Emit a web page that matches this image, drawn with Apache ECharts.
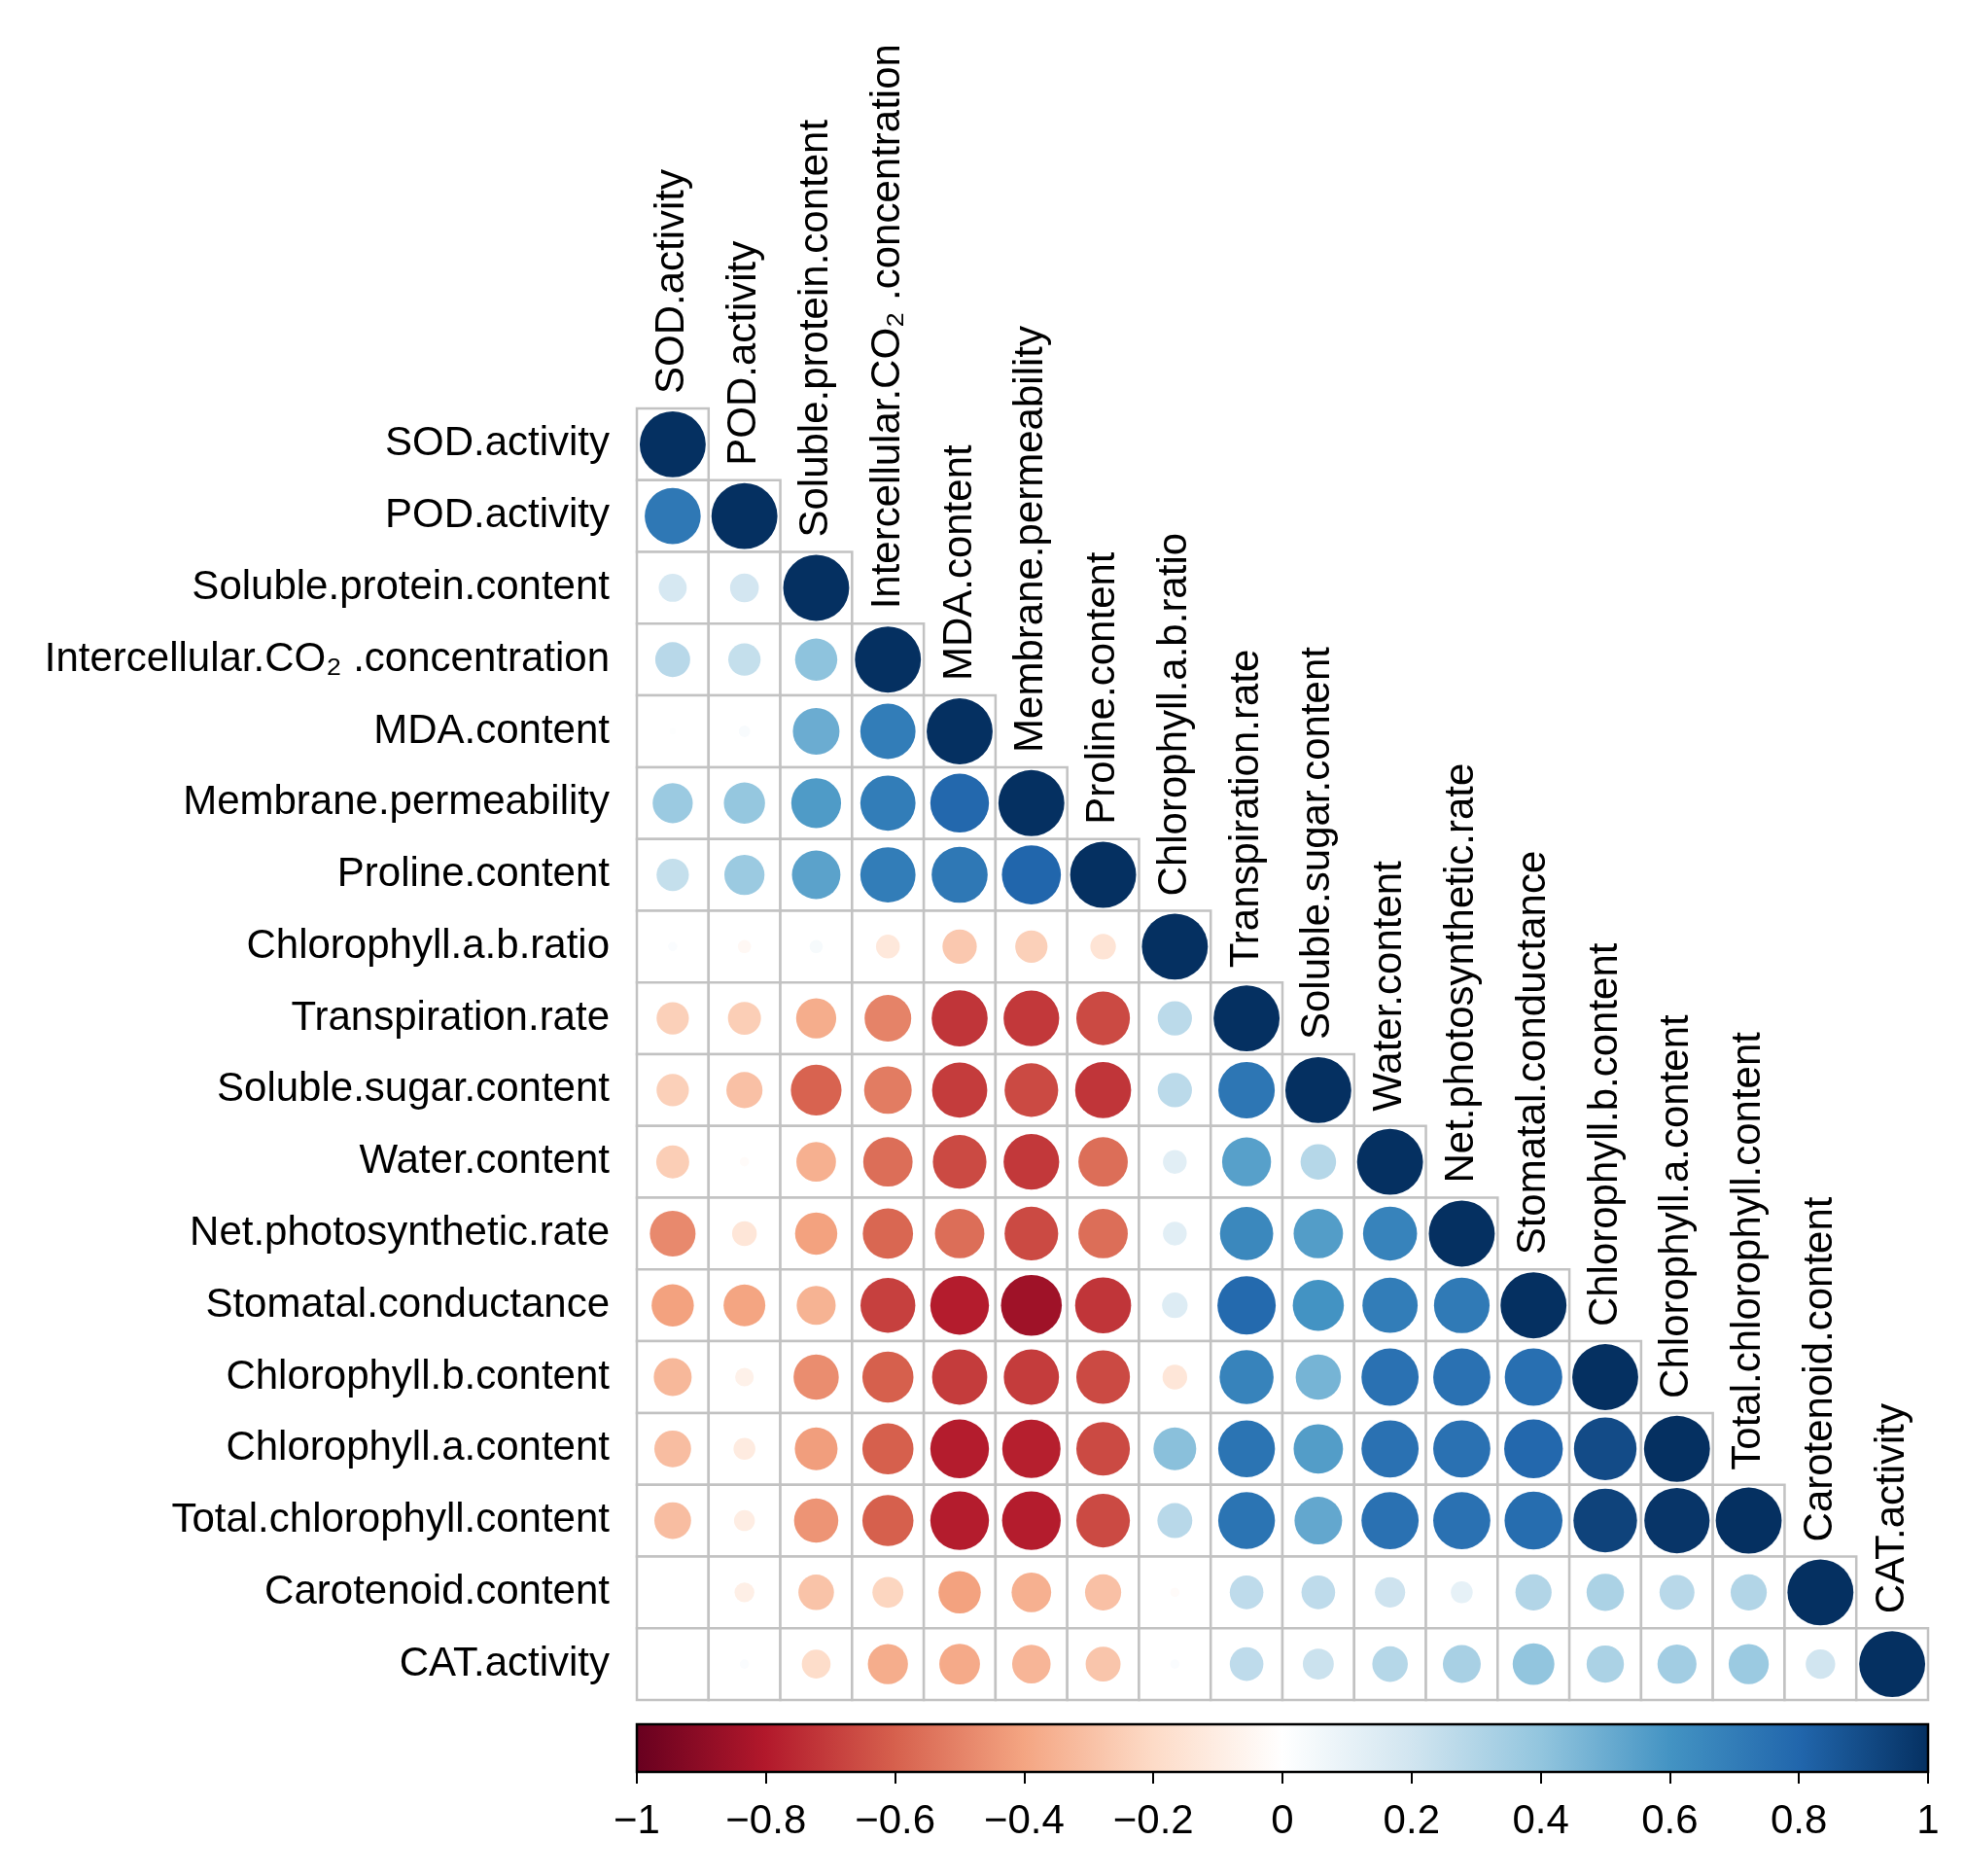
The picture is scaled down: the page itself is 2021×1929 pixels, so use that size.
<!DOCTYPE html>
<html><head><meta charset="utf-8">
<script src="https://cdn.jsdelivr.net/npm/echarts@6/dist/echarts.min.js"></script>
<style>html,body{margin:0;padding:0;background:#fff}#c{width:2021px;height:1929px}</style>
</head><body><div id="c"></div><script>
const labels = ["SOD.activity","POD.activity","Soluble.protein.content","Intercellular.CO\u2082 .concentration","MDA.content","Membrane.permeability","Proline.content","Chlorophyll.a.b.ratio","Transpiration.rate","Soluble.sugar.content","Water.content","Net.photosynthetic.rate","Stomatal.conductance","Chlorophyll.b.content","Chlorophyll.a.content","Total.chlorophyll.content","Carotenoid.content","CAT.activity"];

// lower-triangle correlation rows (row i has columns 0..i)
const rowSOD      = [1];
const rowPOD      = [0.72, 1];
const rowSolProt  = [0.18, 0.19, 1];
const rowCO2      = [0.28, 0.24, 0.41, 1];
const rowMDA      = [0.01, 0.03, 0.50, 0.70, 1];
const rowMemb     = [0.37, 0.39, 0.57, 0.70, 0.79, 1];
const rowProline  = [0.24, 0.37, 0.54, 0.70, 0.72, 0.80, 1];
const rowChlRatio = [0.02, -0.04, 0.04, -0.13, -0.27, -0.24, -0.15, 1];
const rowTransp   = [-0.24, -0.25, -0.37, -0.50, -0.72, -0.71, -0.66, 0.27, 1];
const rowSugar    = [-0.24, -0.30, -0.59, -0.52, -0.70, -0.66, -0.72, 0.27, 0.73, 1];
const rowWater    = [-0.25, -0.02, -0.36, -0.56, -0.66, -0.71, -0.56, 0.13, 0.55, 0.29, 1];
const rowNetPhoto = [-0.48, -0.14, -0.41, -0.58, -0.56, -0.66, -0.56, 0.13, 0.65, 0.56, 0.67, 1];
const rowStomatal = [-0.41, -0.40, -0.35, -0.69, -0.79, -0.85, -0.72, 0.15, 0.78, 0.60, 0.70, 0.71, 1];
const rowChlB     = [-0.33, -0.08, -0.47, -0.60, -0.70, -0.70, -0.66, -0.14, 0.67, 0.47, 0.75, 0.75, 0.76, 1];
const rowChlA     = [-0.31, -0.11, -0.42, -0.60, -0.79, -0.78, -0.66, 0.42, 0.74, 0.56, 0.75, 0.75, 0.79, 0.90, 1];
const rowTotalChl = [-0.31, -0.10, -0.45, -0.60, -0.79, -0.79, -0.66, 0.28, 0.74, 0.52, 0.75, 0.75, 0.77, 0.93, 0.98, 1];
const rowCarot    = [0.00, -0.09, -0.29, -0.22, -0.41, -0.36, -0.30, -0.02, 0.26, 0.26, 0.21, 0.11, 0.30, 0.32, 0.28, 0.30, 1];
const rowCAT      = [0.00, 0.02, -0.19, -0.37, -0.38, -0.34, -0.28, 0.02, 0.26, 0.22, 0.29, 0.33, 0.40, 0.32, 0.35, 0.37, 0.20, 1];
const corrRows = [rowSOD,rowPOD,rowSolProt,rowCO2,rowMDA,rowMemb,rowProline,rowChlRatio,rowTransp,rowSugar,rowWater,rowNetPhoto,rowStomatal,rowChlB,rowChlA,rowTotalChl,rowCarot,rowCAT];

const palette = ["#67001F","#B2182B","#D6604D","#F4A582","#FDDBC7","#FFFFFF","#D1E5F0","#92C5DE","#4393C3","#2166AC","#053061"];
const cbTicks = [-1,-0.8,-0.6,-0.4,-0.2,0,0.2,0.4,0.6,0.8,1];

function hex2rgb(h){return [parseInt(h.substr(1,2),16),parseInt(h.substr(3,2),16),parseInt(h.substr(5,2),16)];}
function colorFor(v){
  let t=(v+1)/2*(palette.length-1);
  let i=Math.min(Math.floor(t),palette.length-2); let f=t-i;
  const a=hex2rgb(palette[i]), b=hex2rgb(palette[i+1]);
  const c=a.map((x,k)=>Math.round(x+(b[k]-x)*f));
  return 'rgb('+c.join(',')+')';
}

const cellData=[];
corrRows.forEach((row,i)=>row.forEach((v,j)=>cellData.push([j,i,v])));
const colLabelData = labels.map((l,j)=>[j,j,l]);

const FONT='Liberation Sans';
const chart=echarts.init(document.getElementById('c'),null,{renderer:'canvas'});
chart.setOption({
  backgroundColor:'#fff',
  animation:false,
  grid:[
    {left:655,top:420,width:1328,height:1328},
    {left:655,top:1773,width:1328,height:49}
  ],
  xAxis:[
    {type:'category',data:labels,gridIndex:0,show:false},
    {type:'value',gridIndex:1,min:-1,max:1,interval:0.2,
     axisLine:{show:false},splitLine:{show:false},
     axisTick:{show:true,length:12,lineStyle:{color:'#000',width:2}},
     axisLabel:{show:true,fontSize:42,fontFamily:FONT,color:'#000',margin:30,showMinLabel:true,showMaxLabel:true,
       formatter:v=>{ if(Math.abs(v)<1e-9) return '0'; const s=String(Number(Math.abs(v).toFixed(1))); return (v<0?'\u2212':'')+s; }}}
  ],
  yAxis:[
    {type:'category',data:labels,gridIndex:0,inverse:true,
     axisLine:{show:false},axisTick:{show:false},splitLine:{show:false},
     axisLabel:{fontSize:42,fontFamily:FONT,color:'#000',margin:28}},
    {type:'value',gridIndex:1,min:0,max:1,show:false}
  ],
  series:[
    {type:'custom',xAxisIndex:0,yAxisIndex:0,data:cellData,
     renderItem:(params,api)=>{
       const j=api.value(0), i=api.value(1), v=api.value(2);
       const p=api.coord([j,i]); const s=api.size([1,1]);
       const w=s[0], h=s[1];
       const r=0.46*w*Math.sqrt(Math.abs(v));
       return {type:'group',children:[
         {type:'rect',shape:{x:p[0]-w/2,y:p[1]-h/2,width:w,height:h},style:{fill:'#fff',stroke:'#c2c2c2',lineWidth:2.5}},
         {type:'circle',shape:{cx:p[0],cy:p[1],r:r},style:{fill:colorFor(v)}}
       ]};
     }},
    {type:'custom',xAxisIndex:0,yAxisIndex:0,data:colLabelData,clip:false,
     renderItem:(params,api)=>{
       const j=api.value(0);
       const p=api.coord([j,j]); const s=api.size([1,1]);
       return {type:'text',x:p[0],y:p[1]-s[1]/2-15,rotation:Math.PI/2,
         style:{text:labels[j],fontSize:42,fontFamily:FONT,fill:'#000',align:'left',verticalAlign:'middle'}};
     }},
    {type:'custom',xAxisIndex:1,yAxisIndex:1,data:[[cbTicks[0],0,cbTicks[cbTicks.length-1],1]],
     renderItem:(params,api)=>{
       const p0=api.coord([api.value(0),api.value(1)]);
       const p1=api.coord([api.value(2),api.value(3)]);
       const stops=palette.map((c,k)=>({offset:k/(palette.length-1),color:c}));
       return {type:'rect',shape:{x:p0[0],y:p1[1],width:p1[0]-p0[0],height:p0[1]-p1[1]},
         style:{fill:new echarts.graphic.LinearGradient(0,0,1,0,stops),stroke:'#000',lineWidth:2.5}};
     }}
  ]
});
</script></body></html>
